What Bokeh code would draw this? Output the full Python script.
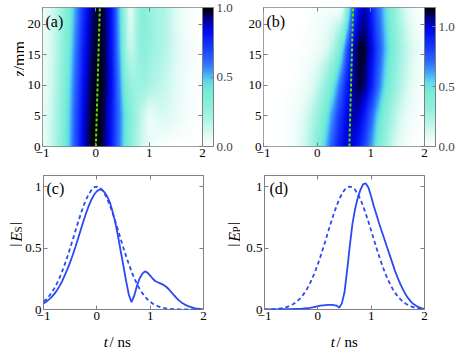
import math
import numpy as np
from bokeh.plotting import figure
from bokeh.models import (LinearColorMapper, ColorBar, FixedTicker, LinearAxis,
                          Label, Range1d, PrintfTickFormatter)
from bokeh.layouts import column, row
from bokeh.embed import file_html
from bokeh.resources import INLINE

# ---------------- data ----------------
t_fine = np.round(np.linspace(-1.0, 2.0, 61), 2)     # t / ns, step 0.05
t_coarse = np.round(np.linspace(-1.0, 2.0, 31), 2)   # t / ns, step 0.1
x_ticks = [-1, 0, 1, 2]
z_ticks = [0, 5, 10, 15, 20]
v_ticks = [0, 0.5, 1]
cb_ticks = [0.0, 0.5, 1.0]
z_max = 22.7
v_max = 1.09
cb_max_s = 1.0
cb_max_p = 1.16
z_rows = [0.0, 5.0, 10.0, 16.0, 22.7]

# signal |E_S|: input (dashed, z = 0) and output (solid, z = L)
es_in = [0.065, 0.082, 0.106, 0.135, 0.170, 0.210, 0.257, 0.310, 0.369, 0.432,
         0.500, 0.570, 0.642, 0.712, 0.779, 0.841, 0.895, 0.939, 0.973, 0.993,
         1.000, 0.993, 0.973, 0.939, 0.895, 0.841, 0.779, 0.712, 0.642, 0.570,
         0.500, 0.432, 0.369, 0.310, 0.257, 0.210, 0.170, 0.135, 0.106, 0.082,
         0.063, 0.047, 0.035, 0.026, 0.018, 0.013, 0.009, 0.006, 0.004, 0.003,
         0.002, 0.001, 0.001, 0.0, 0.0, 0.0, 0.0, 0.0, 0.0, 0.0, 0.0]
es_out = [0.05, 0.063, 0.08, 0.10, 0.125, 0.155, 0.19, 0.23, 0.28, 0.33,
          0.385, 0.445, 0.51, 0.58, 0.65, 0.72, 0.785, 0.845, 0.895, 0.935,
          0.962, 0.977, 0.972, 0.95, 0.915, 0.865, 0.79, 0.70, 0.59, 0.47,
          0.35, 0.23, 0.12, 0.06, 0.11, 0.19, 0.25, 0.29, 0.31, 0.30,
          0.275, 0.25, 0.23, 0.22, 0.21, 0.20, 0.185, 0.165, 0.14, 0.115,
          0.09, 0.07, 0.053, 0.04, 0.03, 0.022, 0.015, 0.01, 0.006, 0.003, 0.001]
# probe |E_P|
ep_in = [0.001, 0.001, 0.002, 0.003, 0.004, 0.006, 0.009, 0.013, 0.018, 0.026,
         0.035, 0.047, 0.063, 0.082, 0.106, 0.135, 0.170, 0.210, 0.257, 0.310,
         0.369, 0.432, 0.500, 0.570, 0.642, 0.712, 0.779, 0.841, 0.895, 0.939,
         0.973, 0.993, 1.000, 0.993, 0.973, 0.939, 0.895, 0.841, 0.779, 0.712,
         0.642, 0.570, 0.500, 0.432, 0.369, 0.310, 0.257, 0.210, 0.170, 0.135,
         0.106, 0.082, 0.063, 0.047, 0.035, 0.026, 0.018, 0.013, 0.009, 0.006, 0.004]
ep_out = [0.0, 0.0, 0.0, 0.001, 0.001, 0.001, 0.002, 0.002, 0.002, 0.003,
          0.003, 0.004, 0.004, 0.005, 0.006, 0.008, 0.010, 0.013, 0.017, 0.022,
          0.027, 0.031, 0.034, 0.036, 0.037, 0.037, 0.036, 0.032, 0.015, 0.05,
          0.14, 0.32, 0.52, 0.70, 0.82, 0.91, 0.975, 1.02, 1.025, 0.99,
          0.92, 0.84, 0.77, 0.70, 0.635, 0.57, 0.505, 0.44, 0.375, 0.31,
          0.255, 0.205, 0.16, 0.12, 0.088, 0.062, 0.042, 0.028, 0.018, 0.01, 0.006]

# intermediate propagation distances (t_coarse grid)
es_z5 = [0.06, 0.10, 0.16, 0.245, 0.355, 0.485, 0.625, 0.765, 0.885, 0.965,
         0.995, 0.98, 0.91, 0.79, 0.65, 0.51, 0.38, 0.28, 0.20, 0.12,
         0.06, 0.08, 0.10, 0.10, 0.09, 0.07, 0.05, 0.035, 0.02, 0.012, 0.006]
es_z10 = [0.055, 0.09, 0.145, 0.225, 0.33, 0.46, 0.60, 0.74, 0.865, 0.95,
          0.99, 0.985, 0.93, 0.81, 0.64, 0.46, 0.30, 0.24, 0.24, 0.24,
          0.21, 0.18, 0.16, 0.14, 0.11, 0.085, 0.06, 0.04, 0.025, 0.015, 0.008]
es_z16 = [0.052, 0.085, 0.135, 0.205, 0.30, 0.42, 0.56, 0.70, 0.83, 0.925,
          0.975, 0.98, 0.93, 0.80, 0.61, 0.40, 0.16, 0.15, 0.26, 0.29,
          0.27, 0.23, 0.21, 0.18, 0.14, 0.10, 0.07, 0.045, 0.028, 0.016, 0.008]
ep_z5 = [0.0, 0.002, 0.004, 0.008, 0.015, 0.03, 0.05, 0.085, 0.135, 0.20,
         0.29, 0.40, 0.53, 0.67, 0.81, 0.93, 1.02, 1.05, 1.0, 0.89,
         0.75, 0.60, 0.46, 0.34, 0.24, 0.16, 0.105, 0.065, 0.04, 0.024, 0.014]
ep_z10 = [0.0, 0.001, 0.002, 0.004, 0.007, 0.012, 0.02, 0.035, 0.06, 0.10,
          0.16, 0.25, 0.36, 0.50, 0.65, 0.82, 0.98, 1.08, 1.12, 1.07,
          0.94, 0.78, 0.62, 0.48, 0.36, 0.26, 0.18, 0.12, 0.075, 0.045, 0.026]
ep_z16 = [0.0, 0.0, 0.001, 0.002, 0.003, 0.004, 0.007, 0.012, 0.02, 0.032,
          0.05, 0.08, 0.13, 0.22, 0.38, 0.60, 0.85, 1.05, 1.14, 1.11,
          1.0, 0.85, 0.70, 0.56, 0.43, 0.32, 0.23, 0.16, 0.105, 0.065, 0.04]

# reference (dashed green) lines in the maps
ref_z = [0.0, 22.7]
ref_t_s = [0.0, 0.075]
ref_t_p = [0.6, 0.67]

# ---------------- style ----------------
SERIF = "Liberation Serif"
GRAY = "#808080"
LINE_BLUE = "#2b49f2"
GREEN = "#5fe000"

stops = [(0.00, "#ffffff"), (0.08, "#e2fbf5"), (0.18, "#b2f5e7"), (0.28, "#8ef0dc"),
         (0.40, "#74ecd6"), (0.46, "#62dbe8"), (0.50, "#4cc2f5"), (0.55, "#3a94fb"),
         (0.62, "#2a64ff"), (0.72, "#1438ff"), (0.84, "#0008f0"), (0.92, "#000090"),
         (0.97, "#000030"), (1.00, "#000000")]


def make_palette(n=256):
    pos = [s[0] for s in stops]
    rgb = np.array([[int(c[1:3], 16), int(c[3:5], 16), int(c[5:7], 16)] for _, c in stops], float)
    out = []
    for f in np.linspace(0, 1, n):
        r, g, b = (np.interp(f, pos, rgb[:, k]) for k in range(3))
        out.append("#%02x%02x%02x" % (int(round(r)), int(round(g)), int(round(b))))
    return out


PALETTE = make_palette()


def heat_image(rows):
    # rows given on t_fine (first/last) or t_coarse (middle); resampled only for display
    fine_rows = [np.interp(t_fine, t_fine if len(r) == len(t_fine) else t_coarse, r) for r in rows]
    t_img = np.linspace(-1, 2, 301)
    z_img = np.linspace(0, z_max, 181)
    tmp = np.array([np.interp(t_img, t_fine, r) for r in fine_rows])
    img = np.empty((len(z_img), len(t_img)))
    for j in range(len(t_img)):
        img[:, j] = np.interp(z_img, z_rows, tmp[:, j])
    return img


def base_fig(y_max, y_ticks, y_over, left, right, top, bottom, fw, fh, xstand):
    p = figure(frame_width=fw, frame_height=fh, x_range=Range1d(-1, 2), y_range=Range1d(0, y_max),
               output_backend="svg", toolbar_location=None,
               min_border_left=left, min_border_right=right,
               min_border_top=top, min_border_bottom=bottom)
    p.grid.visible = False
    p.outline_line_color = GRAY
    p.outline_line_width = 1
    p.xaxis.ticker = FixedTicker(ticks=x_ticks)
    p.xaxis.major_label_overrides = {-1: "\u22121", 0: "0", 1: "1", 2: "2"}
    p.yaxis.ticker = FixedTicker(ticks=y_ticks)
    p.yaxis.major_label_overrides = y_over
    top_ax = LinearAxis(ticker=FixedTicker(ticks=x_ticks),
                        major_label_overrides={k: "" for k in x_ticks})
    right_ax = LinearAxis(ticker=FixedTicker(ticks=y_ticks),
                          major_label_overrides={k: "" for k in y_ticks})
    p.add_layout(top_ax, "above")
    p.add_layout(right_ax, "right")
    for ax in p.axis:
        ax.axis_line_color = None
        ax.major_tick_in = 4
        ax.major_tick_out = 0
        ax.minor_tick_line_color = None
        ax.major_tick_line_color = GRAY
        ax.major_label_text_font = SERIF
        ax.major_label_text_font_size = "13px"
        ax.major_label_text_color = "black"
        ax.major_label_standoff = 2
    p.xaxis[0].major_label_standoff = xstand
    top_ax.major_label_standoff = 0
    right_ax.major_label_standoff = 0
    return p


def label_fig(w, h):
    f = figure(width=w, height=h, x_range=Range1d(0, w), y_range=Range1d(0, h),
               output_backend="svg", toolbar_location=None, min_border=0,
               x_axis_type=None, y_axis_type=None, title=None)
    f.outline_line_color = None
    f.grid.visible = False
    return f


def txt(p, x, y, text, size="16px", style="normal", align="left",
        baseline="alphabetic", angle=0.0, xo=0, yo=0):
    p.add_layout(Label(x=x, y=y, text=text, x_offset=xo, y_offset=yo, text_font=SERIF,
                       text_font_size=size, text_font_style=style, text_align=align,
                       text_baseline=baseline, angle=angle, text_color="black"))


def add_colorbar(p, high, fh, gap):
    spacer = LinearAxis(ticker=FixedTicker(ticks=[]), major_tick_out=gap, major_tick_in=0,
                        major_tick_line_color=None, minor_tick_line_color=None,
                        axis_line_color=None, major_label_standoff=0)
    p.add_layout(spacer, "right")
    mapper = LinearColorMapper(palette=PALETTE, low=0.0, high=high)
    cb = ColorBar(color_mapper=mapper, ticker=FixedTicker(ticks=cb_ticks),
                  formatter=PrintfTickFormatter(format="%.1f"),
                  width=11, height=fh, padding=0, margin=0,
                  bar_line_color=GRAY, major_tick_line_color=GRAY,
                  major_tick_in=3, major_tick_out=0, label_standoff=3,
                  major_label_text_font=SERIF, major_label_text_font_size="13px",
                  border_line_color=None, background_fill_color=None)
    p.add_layout(cb, "right")
    return mapper


FH1 = 139
FH2 = 134
TOP1, BOT1 = 7, 24
TOP2, BOT2 = 5, 17
H1 = TOP1 + FH1 + BOT1      # 170
H2 = TOP2 + FH2 + BOT2      # 156
H3 = 21
z_over = {k: str(k) for k in z_ticks}
v_over = {0: "0", 0.5: "0.5", 1: "1"}

# ---- (a) ----
pa = base_fig(z_max, z_ticks, z_over, 17, 42, TOP1, BOT1, 160, FH1, 4)
ma = add_colorbar(pa, cb_max_s, FH1, 8)
pa.image(image=[heat_image([es_in, es_z5, es_z10, es_z16, es_out])], x=-1, y=0, dw=3, dh=z_max,
         color_mapper=ma)
pa.line(ref_t_s, ref_z, line_color=GREEN, line_width=2, line_dash="3 2")
txt(pa, -1, z_max, "(a)", xo=3, yo=-5, baseline="top")

# ---- (b) ----
pb = base_fig(z_max, z_ticks, z_over, 19, 39, TOP1, BOT1, 161, FH1, 4)
mb = add_colorbar(pb, cb_max_p, FH1, 6)
pb.image(image=[heat_image([ep_in, ep_z5, ep_z10, ep_z16, ep_out])], x=-1, y=0, dw=3, dh=z_max,
         color_mapper=mb)
pb.line(ref_t_p, ref_z, line_color=GREEN, line_width=2, line_dash="3 2")
txt(pb, -1, z_max, "(b)", xo=3, yo=-5, baseline="top")

# ---- (c) ----
pc = base_fig(v_max, v_ticks, v_over, 19, 14, TOP2, BOT2, 160, FH2, 2)
pc.line(t_fine, es_in, line_color=LINE_BLUE, line_width=1.8, line_dash="4 3")
pc.line(t_fine, es_out, line_color=LINE_BLUE, line_width=1.8)
txt(pc, -1, v_max, "(c)", xo=3, yo=-4, baseline="top")

# ---- (d) ----
pd = base_fig(v_max, v_ticks, v_over, 24, 40, TOP2, BOT2, 160, FH2, 2)
pd.line(t_fine, ep_in, line_color=LINE_BLUE, line_width=1.8, line_dash="4 3")
pd.line(t_fine, ep_out, line_color=LINE_BLUE, line_width=1.8)
txt(pd, -1, v_max, "(d)", xo=5, yo=-4, baseline="top")

# ---- axis-title strips (mixed italic / upright text) ----
ROT = math.pi / 2
lab_a = label_fig(24, H1)
txt(lab_a, 18.5, H1 - 77, "z", style="italic", align="right", angle=ROT)
txt(lab_a, 18.5, H1 - 77, "/mm", align="left", angle=ROT)


def abs_label(f, x, yc, sub):
    y0 = yc - 15
    txt(f, x, y0, "|", size="16px", angle=ROT)
    txt(f, x, y0 + 6, "E", style="italic", angle=ROT)
    txt(f, x + 1.5, y0 + 16.5, sub, size="11px", angle=ROT)
    txt(f, x, y0 + 25, "|", size="16px", angle=ROT)


lab_c = label_fig(22, H2)
abs_label(lab_c, 16, H2 - (238 - H1), "S")
lab_d = label_fig(23, H2)
abs_label(lab_d, 17, H2 - (238 - H1), "P")

lab_t = label_fig(462, H3)
for t_end in (107.5, 334.5):
    txt(lab_t, t_end, 5.5, "t", size="15px", style="italic", align="right")
    txt(lab_t, t_end + 1.5, 5.5, "/", size="15px", align="left")
    txt(lab_t, t_end + 9.5, 5.5, "ns", size="15px", align="left")

layout = column(row(lab_a, pa, pb), row(lab_c, pc, lab_d, pd), lab_t)
open("out.html", "w").write(file_html(layout, INLINE))
